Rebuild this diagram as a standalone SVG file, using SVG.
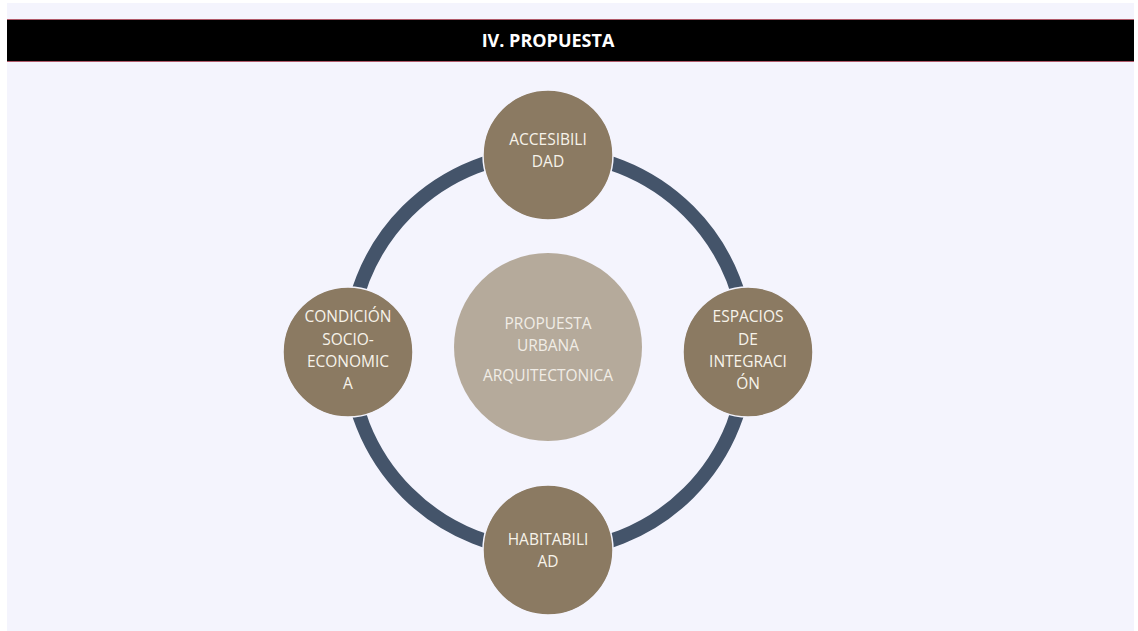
<svg xmlns="http://www.w3.org/2000/svg" width="1138" height="631" viewBox="0 0 1138 631">
<style>
.node{fill:#8b7a62;stroke:#f4f4fd;stroke-width:1.5}
.t{font-family:"Open Sans","Liberation Sans",sans-serif;font-size:15.5px;fill:#f7f3ea;text-anchor:middle}
.c{font-family:"Open Sans","Liberation Sans",sans-serif;font-size:15.5px;fill:#f1ede6;text-anchor:middle}
.h{font-family:"Open Sans","Liberation Sans",sans-serif;font-size:18px;font-weight:bold;fill:#ffffff;text-anchor:middle}
</style>
<rect x="0" y="0" width="1138" height="631" fill="#ffffff"/>
<rect x="7" y="3" width="1127" height="628" fill="#f4f4fd"/>
<g id="header">
<rect x="7" y="19" width="1127" height="43" fill="#000000"/>
<line x1="7" y1="19.5" x2="1134" y2="19.5" stroke="#b05a6a" stroke-width="1"/>
<line x1="7" y1="61.5" x2="1134" y2="61.5" stroke="#b05a6a" stroke-width="1"/>
<text class="h" x="548" y="47">IV. PROPUESTA</text>
</g>
<g id="connectors">
<circle cx="548" cy="352" r="199" fill="none" stroke="#44546a" stroke-width="14"/>
</g>
<g id="center">
<circle cx="548" cy="347" r="94" fill="#b5aa9b"/>
<text class="c" x="548" y="329">PROPUESTA</text>
<text class="c" x="548" y="351">URBANA</text>
<text class="c" x="548" y="381">ARQUITECTONICA</text>
</g>
<g id="accesibilidad">
<circle class="node" cx="548" cy="155" r="65"/>
<text class="t" x="548" y="145">ACCESIBILI</text>
<text class="t" x="548" y="167">DAD</text>
</g>
<g id="condicion">
<circle class="node" cx="348" cy="352" r="65"/>
<text class="t" x="348" y="322">CONDICIÓN</text>
<text class="t" x="348" y="345">SOCIO-</text>
<text class="t" x="348" y="367">ECONOMIC</text>
<text class="t" x="348" y="389">A</text>
</g>
<g id="espacios">
<circle class="node" cx="748" cy="352" r="65"/>
<text class="t" x="748" y="322">ESPACIOS</text>
<text class="t" x="748" y="345">DE</text>
<text class="t" x="748" y="367">INTEGRACI</text>
<text class="t" x="748" y="389">ÓN</text>
</g>
<g id="habitabilidad">
<circle class="node" cx="548" cy="550" r="65"/>
<text class="t" x="548" y="545">HABITABILI</text>
<text class="t" x="548" y="567">AD</text>
</g>
</svg>
